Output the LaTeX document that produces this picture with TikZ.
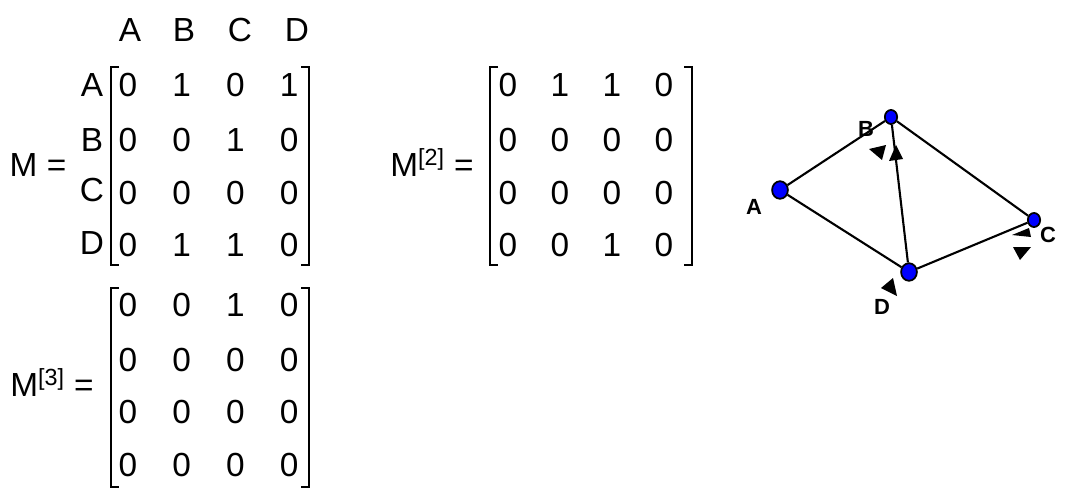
\documentclass[tikz,border=0pt]{standalone}
\usepackage{fontspec}
\setmainfont{Liberation Sans}
\usetikzlibrary{positioning, shapes.geometric}
\tikzstyle{entry} = [font=\fontsize{19}{19}\selectfont, inner sep=0pt]
\tikzstyle{vertex} = [ellipse, draw, fill=blue, line width=1pt, minimum width=9pt, minimum height=10pt, inner sep=0pt]
\tikzstyle{vlabel} = [font=\bfseries\fontsize{12.5}{12.5}\selectfont, inner sep=0pt]
\tikzstyle{edge} = [draw, line width=1.2pt]
\tikzstyle{tip} = [fill=black]
\tikzstyle{brack} = [draw, line width=1pt]
\begin{document}
\begin{tikzpicture}[x=0.02cm, y=-0.02cm]
    \useasboundingbox (0,0) rectangle (1069,501);

    % column and row headings
    \foreach \c/\x in {A/130, B/184, C/240, D/297}
      \node[entry] (col\c) at (\x,30) {\c};
    \foreach \r/\y in {A/85, B/140, C/190, D/243}
      \node[entry] (row\r) at (92,\y) {\r};

    % M
    \node[entry] (mlab) at (38,165) {M =};
    \foreach \y/\row [count=\i] in {85/{0,1,0,1}, 140/{0,0,1,0}, 193/{0,0,0,0}, 245/{0,1,1,0}}
      \foreach \v [count=\j] in \row
        \node[entry] (m\i\j) at ({128+(\j-1)*53.7},\y) {\v};
    \draw[brack] (119,67) -| (111,265) -- (119,265);
    \draw[brack] (301,67) -| (309,265) -- (301,265);

    % M^[2]
    \node[entry] (m2lab) at (432,163) {M\textsuperscript{[2]} =};
    \foreach \y/\row [count=\i] in {85/{0,1,1,0}, 140/{0,0,0,0}, 193/{0,0,0,0}, 245/{0,0,1,0}}
      \foreach \v [count=\j] in \row
        \node[entry] (n\i\j) at ({508+(\j-1)*52},\y) {\v};
    \draw[brack] (498,67) -| (490,265) -- (498,265);
    \draw[brack] (684,67) -| (692,265) -- (684,265);

    % M^[3]
    \node[entry] (m3lab) at (52,383) {M\textsuperscript{[3]} =};
    \foreach \y/\row [count=\i] in {305/{0,0,1,0}, 360/{0,0,0,0}, 412/{0,0,0,0}, 465/{0,0,0,0}}
      \foreach \v [count=\j] in \row
        \node[entry] (p\i\j) at ({128+(\j-1)*53.7},\y) {\v};
    \draw[brack] (119,288) -| (111,487) -- (119,487);
    \draw[brack] (301,288) -| (309,487) -- (301,487);

    % graph
    \node[vertex] (A) at (780,190) {};
    \node[vertex, minimum width=7pt, minimum height=8pt] (B) at (891,117) {};
    \node[vertex, minimum width=7pt, minimum height=8pt] (C) at (1034,220) {};
    \node[vertex] (D) at (909,272) {};
    \node[vlabel] (la) at (754,207) {A};
    \node[vlabel] (lb) at (866,129) {B};
    \node[vlabel] (lc) at (1048,235) {C};
    \node[vlabel] (ld) at (882,307) {D};

    \path[edge] (A) -- (B);
    \path[edge] (B) -- (C);
    \path[edge] (A) -- (D);
    \path[edge] (D) -- (B);
    \path[edge] (D) -- (C);

    % loose arrow heads
    \fill[tip] (869,149) -- (886,145) -- (882,160) -- cycle;
    \fill[tip] (889,161) -- (896,145) -- (903,159) -- cycle;
    \fill[tip] (1012,235) -- (1029,228) -- (1031,237) -- cycle;
    \fill[tip] (1013,247) -- (1031,247) -- (1020,260) -- cycle;
    \fill[tip] (881,288) -- (893,278) -- (897,296) -- cycle;
\end{tikzpicture}
\end{document}
